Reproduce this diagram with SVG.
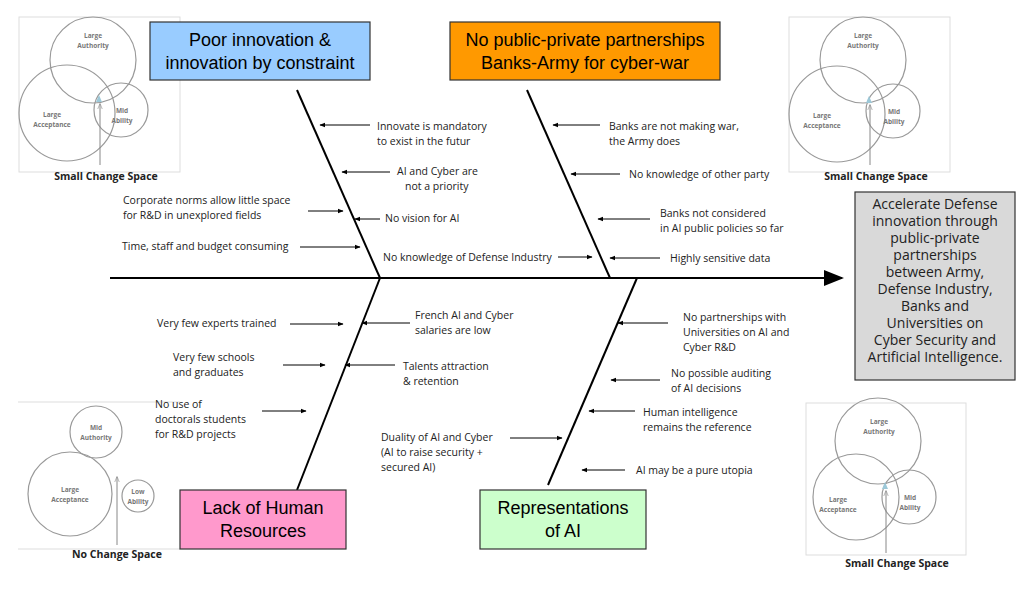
<svg xmlns="http://www.w3.org/2000/svg" width="1024" height="592" viewBox="0 0 1024 592">
<defs>
<marker id="ah" viewBox="0 0 10 10" refX="9" refY="5" markerWidth="6" markerHeight="6" orient="auto"><path d="M0,1 L10,5 L0,9 z" fill="#000"/></marker>
<marker id="ahb" viewBox="0 0 10 10" refX="9" refY="5" markerWidth="10" markerHeight="10" orient="auto"><path d="M0,1 L10,5 L0,9 z" fill="#000"/></marker>
<marker id="ag" viewBox="0 0 10 10" refX="9" refY="5" markerWidth="6" markerHeight="6" orient="auto"><path d="M0,1 L10,5 L0,9" fill="none" stroke="#888"/></marker>
</defs>
<style>
text{font-family:"Open Sans","Liberation Sans",sans-serif;fill:#222}
.l{font-size:10.5px}
.v{font-size:6.5px;fill:#777;text-anchor:middle;font-weight:bold}
.vt{font-size:10.5px;font-weight:bold;text-anchor:middle}
.c{fill:none;stroke:#999;stroke-width:1.2}
.fr{fill:none;stroke:#ddd;stroke-width:1}
.h{font-family:"Liberation Sans",Arial,sans-serif;font-size:18px;text-anchor:middle;fill:#000}
.bx{stroke:#333;stroke-width:1.2}
.a{stroke:#000;stroke-width:1;marker-end:url(#ah)}
.bone{stroke:#000;stroke-width:2;fill:none}
</style>
<rect width="1024" height="592" fill="#fff"/>
<g id="venn-tl">
<rect class="fr" x="19" y="17" width="161" height="155"/>
<circle class="c" cx="93" cy="60" r="43"/><circle class="c" cx="67" cy="113" r="48"/><circle class="c" cx="121" cy="110" r="27"/>
<path d="M96,102 L99,95 L102,102 z" fill="#9cc8d8"/>
<line x1="100" y1="165" x2="100" y2="104" stroke="#888" marker-end="url(#ag)"/>
<text class="v" x="93" y="38">Large</text><text class="v" x="93" y="48">Authority</text>
<text class="v" x="52" y="117">Large</text><text class="v" x="52" y="127">Acceptance</text>
<text class="v" x="122" y="113">Mid</text><text class="v" x="122" y="123">Ability</text>
<text class="vt" x="106" y="180">Small Change Space</text>
</g>
<g id="venn-tr">
<rect class="fr" x="789" y="17" width="161" height="155"/>
<circle class="c" cx="863" cy="60" r="43"/><circle class="c" cx="837" cy="114" r="48"/><circle class="c" cx="893" cy="111" r="27"/>
<path d="M866,103 L869,96 L872,103 z" fill="#9cc8d8"/>
<line x1="870" y1="165" x2="870" y2="105" stroke="#888" marker-end="url(#ag)"/>
<text class="v" x="863" y="38">Large</text><text class="v" x="863" y="48">Authority</text>
<text class="v" x="822" y="118">Large</text><text class="v" x="822" y="128">Acceptance</text>
<text class="v" x="894" y="114">Mid</text><text class="v" x="894" y="124">Ability</text>
<text class="vt" x="876" y="180">Small Change Space</text>
</g>
<g id="venn-bl">
<line class="fr" x1="18" y1="402" x2="180" y2="402"/><line class="fr" x1="18" y1="549" x2="180" y2="549"/>
<circle class="c" cx="96" cy="432" r="26"/><circle class="c" cx="70" cy="494" r="42"/><circle class="c" cx="138" cy="496" r="16"/>
<line x1="117" y1="545" x2="117" y2="477" stroke="#888" marker-end="url(#ag)"/>
<text class="v" x="96" y="430">Mid</text><text class="v" x="96" y="440">Authority</text>
<text class="v" x="70" y="492">Large</text><text class="v" x="70" y="502">Acceptance</text>
<text class="v" x="138" y="494">Low</text><text class="v" x="138" y="504">Ability</text>
<text class="vt" x="117" y="558">No Change Space</text>
</g>
<g id="venn-br">
<rect class="fr" x="806" y="403" width="160" height="152"/>
<circle class="c" cx="878" cy="441" r="43"/><circle class="c" cx="856" cy="497" r="43"/><circle class="c" cx="909" cy="497" r="27"/>
<path d="M882,489 L885,482 L888,489 z" fill="#9cc8d8"/>
<line x1="886" y1="553" x2="886" y2="491" stroke="#888" marker-end="url(#ag)"/>
<text class="v" x="879" y="424">Large</text><text class="v" x="879" y="434">Authority</text>
<text class="v" x="838" y="502">Large</text><text class="v" x="838" y="512">Acceptance</text>
<text class="v" x="910" y="500">Mid</text><text class="v" x="910" y="510">Ability</text>
<text class="vt" x="897" y="567">Small Change Space</text>
</g>
<g id="connectors">
<line x1="110" y1="278" x2="842" y2="278" stroke="#000" stroke-width="2" marker-end="url(#ahb)"/>
<line class="bone" x1="297" y1="90" x2="380" y2="278"/>
<line class="bone" x1="527" y1="90" x2="610" y2="278"/>
<line class="bone" x1="380" y1="278" x2="297" y2="490"/>
<line class="bone" x1="637" y1="278" x2="548" y2="485"/>
<line class="a" x1="370" y1="125" x2="320" y2="125"/>
<line class="a" x1="390" y1="172" x2="342" y2="172"/>
<line class="a" x1="380" y1="219" x2="355" y2="219"/>
<line class="a" x1="308" y1="211" x2="343" y2="211"/>
<line class="a" x1="300" y1="247" x2="360" y2="247"/>
<line class="a" x1="558" y1="257" x2="592" y2="257"/>
<line class="a" x1="600" y1="125" x2="553" y2="125"/>
<line class="a" x1="620" y1="174" x2="571" y2="174"/>
<line class="a" x1="650" y1="219" x2="598" y2="219"/>
<line class="a" x1="660" y1="258" x2="610" y2="258"/>
<line class="a" x1="290" y1="324" x2="343" y2="324"/>
<line class="a" x1="410" y1="323" x2="362" y2="323"/>
<line class="a" x1="283" y1="365" x2="325" y2="365"/>
<line class="a" x1="395" y1="365" x2="345" y2="365"/>
<line class="a" x1="262" y1="411" x2="306" y2="411"/>
<line class="a" x1="668" y1="323" x2="618" y2="323"/>
<line class="a" x1="660" y1="380" x2="611" y2="380"/>
<line class="a" x1="635" y1="411" x2="589" y2="411"/>
<line class="a" x1="510" y1="438" x2="562" y2="438"/>
<line class="a" x1="625" y1="470" x2="582" y2="470"/>
</g>
<g id="box-poor"><rect class="bx" x="150" y="22" width="220" height="58" fill="#99CCFF"/><text class="h" x="260" y="46">Poor innovation &amp;</text><text class="h" x="260" y="69">innovation by constraint</text></g>
<g id="box-ppp"><rect class="bx" x="450" y="22" width="270" height="58" fill="#FF9900"/><text class="h" x="585" y="46">No public-private partnerships</text><text class="h" x="585" y="69">Banks-Army for cyber-war</text></g>
<g id="box-hr"><rect class="bx" x="180" y="490" width="166" height="59" fill="#FF99CC"/><text class="h" x="263" y="514">Lack of Human</text><text class="h" x="263" y="537">Resources</text></g>
<g id="box-ai"><rect class="bx" x="480" y="490" width="166" height="59" fill="#CCFFCC"/><text class="h" x="563" y="514">Representations</text><text class="h" x="563" y="537">of AI</text></g>
<g id="box-goal"><rect class="bx" x="855" y="192" width="160" height="188" fill="#D9D9D9"/>
<g font-family="Liberation Sans,Arial,sans-serif" font-size="14" text-anchor="middle">
<text x="935" y="209" fill="#000">Accelerate Defense</text><text x="935" y="226" fill="#000">innovation through</text><text x="935" y="243" fill="#000">public-private</text><text x="935" y="260" fill="#000">partnerships</text><text x="935" y="277" fill="#000">between Army,</text><text x="935" y="294" fill="#000">Defense Industry,</text><text x="935" y="311" fill="#000">Banks and</text><text x="935" y="328" fill="#000">Universities on</text><text x="935" y="345" fill="#000">Cyber Security and</text><text x="935" y="362" fill="#000">Artificial Intelligence.</text></g></g>
<g id="labels" class="l">
<text class="l" x="377" y="130">Innovate is mandatory</text><text class="l" x="377" y="145">to exist in the futur</text>
<text class="l" x="397" y="175">AI and Cyber are</text><text class="l" x="405" y="190">not a priority</text>
<text class="l" x="385" y="222">No vision for AI</text>
<text class="l" x="123" y="204">Corporate norms allow little space</text><text class="l" x="123" y="219">for R&amp;D in unexplored fields</text>
<text class="l" x="122" y="250">Time, staff and budget consuming</text>
<text class="l" x="383" y="261">No knowledge of Defense Industry</text>
<text class="l" x="609" y="130">Banks are not making war,</text><text class="l" x="609" y="145">the Army does</text>
<text class="l" x="629" y="178">No knowledge of other party</text>
<text class="l" x="660" y="217">Banks not considered</text><text class="l" x="660" y="232">in AI public policies so far</text>
<text class="l" x="670" y="262">Highly sensitive data</text>
<text class="l" x="157" y="327">Very few experts trained</text>
<text class="l" x="415" y="319">French AI and Cyber</text><text class="l" x="415" y="334">salaries are low</text>
<text class="l" x="173" y="361">Very few schools</text><text class="l" x="173" y="376">and graduates</text>
<text class="l" x="403" y="370">Talents attraction</text><text class="l" x="403" y="385">&amp; retention</text>
<text class="l" x="155" y="408">No use of</text><text class="l" x="155" y="423">doctorals students</text><text class="l" x="155" y="438">for R&amp;D projects</text>
<text class="l" x="683" y="321">No partnerships with</text><text class="l" x="683" y="336">Universities on AI and</text><text class="l" x="683" y="351">Cyber R&amp;D</text>
<text class="l" x="671" y="377">No possible auditing</text><text class="l" x="671" y="392">of AI decisions</text>
<text class="l" x="643" y="416">Human intelligence</text><text class="l" x="643" y="431">remains the reference</text>
<text class="l" x="381" y="441">Duality of AI and Cyber</text><text class="l" x="381" y="456">(AI to raise security +</text><text class="l" x="381" y="471">secured AI)</text>
<text class="l" x="636" y="474">AI may be a pure utopia</text>
</g>
</svg>
